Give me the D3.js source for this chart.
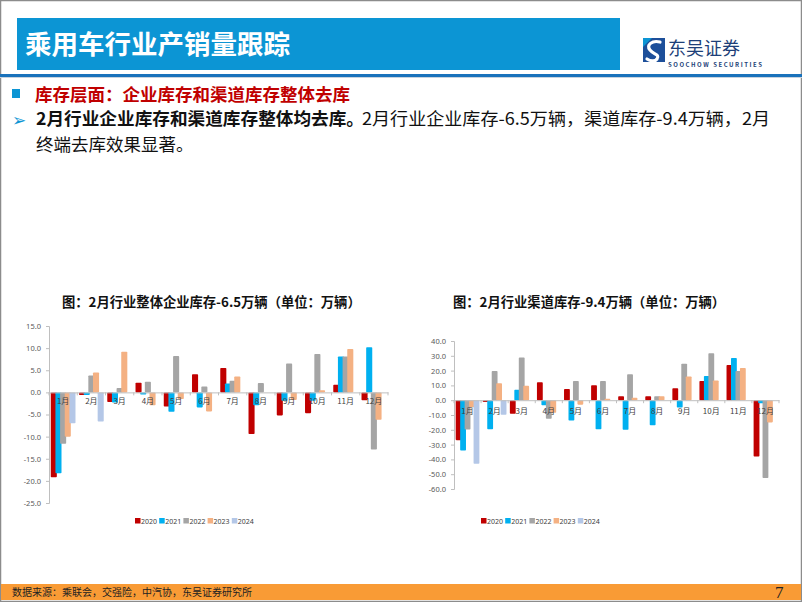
<!DOCTYPE html>
<html><head><meta charset="utf-8">
<script src="https://cdn.jsdelivr.net/npm/d3@7"></script>
<style>
html,body{margin:0;padding:0;background:#fff;}
svg{display:block;font-family:"Noto Sans CJK SC","Noto Sans",sans-serif;}
</style></head>
<body>
<script>
// ---------- data ----------
const months = ["1月","2月","3月","4月","5月","6月","7月","8月","9月","10月","11月","12月"];
const years = ["2020","2021","2022","2023","2024"];
const colors = ["#c00000","#00b0f0","#a5a5a5","#f4b183","#b4c7e7"];

// 企业库存 (万辆)
const ent2020 = [-19.2,-0.6,-2.2,2.2,-3.2,4.1,5.5,-9.4,-5.2,-4.7,1.7,-1.8];
const ent2021 = [-18.3,-0.6,-2.3,-0.5,-4.4,-3.4,2.0,-2.9,-1.9,-1.9,8.1,10.2];
const ent2022 = [-11.6,3.8,1.0,2.4,8.2,1.3,2.6,2.1,6.5,8.7,8.1,-12.9];
const ent2023 = [-10.0,4.5,9.2,-2.9,-1.5,-4.3,3.6,null,-1.7,0.5,9.8,-6.2];
const ent2024 = [-7.0,-6.6,null,null,null,null,null,null,null,null,null,null];
const entTicks = [15,10,5,0,-5,-10,-15,-20,-25];

// 渠道库存 (万辆)
const ch2020 = [-27.0,-1.3,-9.2,12.1,7.6,10.1,2.7,2.7,8.1,13.0,23.8,-38.0];
const ch2021 = [-34.0,-19.6,7.0,-3.4,-13.7,-19.6,-20.0,-16.9,-4.9,16.4,28.5,-2.0];
const ch2022 = [-19.8,19.8,28.8,-12.6,13.0,13.0,17.5,2.7,24.7,31.7,19.8,-52.6];
const ch2023 = [-4.7,11.5,9.7,-8.5,-3.0,1.0,1.6,2.7,16.0,13.3,21.8,-15.0];
const ch2024 = [-43.0,-9.9,null,null,null,null,null,null,null,null,null,null];
const chTicks = [40,30,20,10,0,-10,-20,-30,-40,-50,-60];

const W = 802, H = 602;
const svg = d3.select("body").append("svg").attr("width", W).attr("height", H);

// ---------- page frame ----------
svg.append("rect").attr("x",0.5).attr("y",0.5).attr("width",W-1).attr("height",H-1)
  .attr("fill","none").attr("stroke","#8c8c8c").attr("stroke-width",1.5);

// header
svg.append("rect").attr("x",17).attr("y",18).attr("width",603).attr("height",52).attr("fill","#0c95d4");
svg.append("text").attr("x",25).attr("y",54).attr("fill","#fff").attr("font-size",26.5)
  .attr("font-weight","bold").text("乘用车行业产销量跟踪");
svg.append("rect").attr("x",0).attr("y",74).attr("width",W).attr("height",3).attr("fill","#1a72bb");
svg.append("rect").attr("x",0).attr("y",77).attr("width",W).attr("height",1).attr("fill","#c8d3de");

// logo
const logo = svg.append("g");
logo.append("rect").attr("x",643).attr("y",38).attr("width",22).attr("height",24).attr("fill","#1d4f9a");
logo.append("path").attr("d","M660,42 C652,40 646,45 650,50 C654,55 660,54 657,59 C655,62 650,61 647,59")
  .attr("fill","none").attr("stroke","#fff").attr("stroke-width",3.2).attr("stroke-linecap","round");
logo.append("path").attr("d","M643,38 L652,38 L643,47 Z").attr("fill","#0c95d4");
logo.append("text").attr("x",668).attr("y",55).attr("font-size",18).attr("fill","#1d3f78").text("东吴证券");
logo.append("text").attr("x",668).attr("y",66.5).attr("font-size",6).attr("font-weight","bold")
  .attr("fill","#1d3f78").attr("textLength",94).text("SOOCHOW SECURITIES");

// headings
svg.append("rect").attr("x",12).attr("y",89).attr("width",8).attr("height",9).attr("fill","#0c95d4");
svg.append("text").attr("x",35).attr("y",101).attr("font-size",17.5).attr("font-weight","bold")
  .attr("fill","#c00000").text("库存层面：企业库存和渠道库存整体去库");
svg.append("text").attr("x",12).attr("y",126).attr("font-size",17).attr("fill","#0c95d4").text("➢");
svg.append("text").attr("x",36).attr("y",125).attr("font-size",17.5).attr("font-weight","bold").attr("fill","#111")
  .attr("textLength",328).attr("lengthAdjust","spacingAndGlyphs")
  .text("2月行业企业库存和渠道库存整体均去库。");
svg.append("text").attr("x",362).attr("y",125).attr("font-size",17.5).attr("fill","#111")
  .attr("textLength",408).attr("lengthAdjust","spacingAndGlyphs")
  .text("2月行业企业库存-6.5万辆，渠道库存-9.4万辆，2月");
svg.append("text").attr("x",36).attr("y",151).attr("font-size",17.5).attr("fill","#111").text("终端去库效果显著。");

// footer
svg.append("rect").attr("x",1).attr("y",584).attr("width",W-2).attr("height",16).attr("fill","#f99b35");
svg.append("text").attr("x",12).attr("y",596).attr("font-size",10).attr("fill","#222")
  .text("数据来源：乘联会，交强险，中汽协，东吴证券研究所");
svg.append("text").attr("x",775).attr("y",598).attr("font-size",17)
  .attr("font-family","'Liberation Serif',serif").attr("fill","#222").text("7");

// ---------- chart function ----------
function drawChart(cfg) {
  const g = svg.append("g");
  const series = cfg.series;
  const y = d3.scaleLinear().domain(cfg.domain).range([cfg.yBottom, cfg.yTop]);
  const x = d3.scaleBand().domain(months).range([cfg.xLeft, cfg.xRight]).padding(0);
  const cw = x.bandwidth();
  const step = cw * 0.165, bw = cw * 0.215;
  const groupW = step * (years.length - 1) + bw;

  // title
  g.append("text").attr("x", cfg.titleX).attr("y", 307).attr("font-size", 13.3)
    .attr("font-weight", "bold").attr("fill", "#111").text(cfg.title);

  // y axis
  const yAxis = d3.axisLeft(y).tickValues(cfg.ticks).tickFormat(d => d.toFixed(1))
    .tickSize(3).tickPadding(5);
  const ya = g.append("g").attr("transform", `translate(${cfg.xLeft},0)`).call(yAxis);
  ya.select(".domain").attr("stroke", "#bfbfbf");
  ya.selectAll(".tick line").attr("stroke", "#bfbfbf");
  ya.selectAll(".tick text").attr("fill", "#595959").attr("font-size", 7.5)
    .attr("font-family", "'Noto Sans','Liberation Sans',sans-serif");

  // bars
  series.forEach((vals, si) => {
    g.append("g").selectAll("rect").data(months.map((m, i) => ({m, v: vals[i]})).filter(d => d.v != null))
      .join("rect")
      .attr("x", d => x(d.m) + (cw - groupW) / 2 + si * step)
      .attr("width", bw)
      .attr("y", d => y(Math.max(0, d.v)))
      .attr("height", d => Math.abs(y(d.v) - y(0)))
      .attr("rx", 0.8)
      .attr("fill", colors[si]);
  });

  // x axis at zero
  const xAxis = d3.axisBottom(x).tickSize(0).tickFormat(() => "");
  const xa = g.append("g").attr("transform", `translate(0,${y(0)})`).call(xAxis);
  xa.select(".domain").attr("stroke", "#bfbfbf");
  // boundary tick marks
  g.append("g").selectAll("line").data(d3.range(months.length + 1)).join("line")
    .attr("x1", i => cfg.xLeft + i * cw).attr("x2", i => cfg.xLeft + i * cw)
    .attr("y1", y(0)).attr("y2", y(0) + 3).attr("stroke", "#bfbfbf");
  // category labels
  g.append("g").selectAll("text").data(months).join("text")
    .attr("x", d => x(d) + cw / 2).attr("y", y(0) + cfg.labelDy)
    .attr("text-anchor", "middle").attr("font-size", 8).attr("fill", "#404040").text(d => d);

  // legend
  const lg = g.append("g");
  years.forEach((yr, i) => {
    const lx = cfg.legendX + i * 24.2;
    lg.append("rect").attr("x", lx).attr("y", 518).attr("width", 5.5).attr("height", 5.5).attr("fill", colors[i]);
    lg.append("text").attr("x", lx + 6).attr("y", 523.5).attr("font-size", 7).attr("fill", "#404040")
      .attr("font-family", "'Noto Sans','Liberation Sans',sans-serif").text(yr);
  });
}

drawChart({
  series: [ent2020, ent2021, ent2022, ent2023, ent2024],
  domain: [-25, 15], yBottom: 503, yTop: 326,
  xLeft: 49, xRight: 388, ticks: entTicks,
  title: "图：2月行业整体企业库存-6.5万辆（单位：万辆）", titleX: 62,
  labelDy: 12, legendX: 135
});
drawChart({
  series: [ch2020, ch2021, ch2022, ch2023, ch2024],
  domain: [-60, 40], yBottom: 489, yTop: 341,
  xLeft: 454, xRight: 779, ticks: chTicks,
  title: "图：2月行业渠道库存-9.4万辆（单位：万辆）", titleX: 453,
  labelDy: 14, legendX: 481
});
</script>
</body></html>
